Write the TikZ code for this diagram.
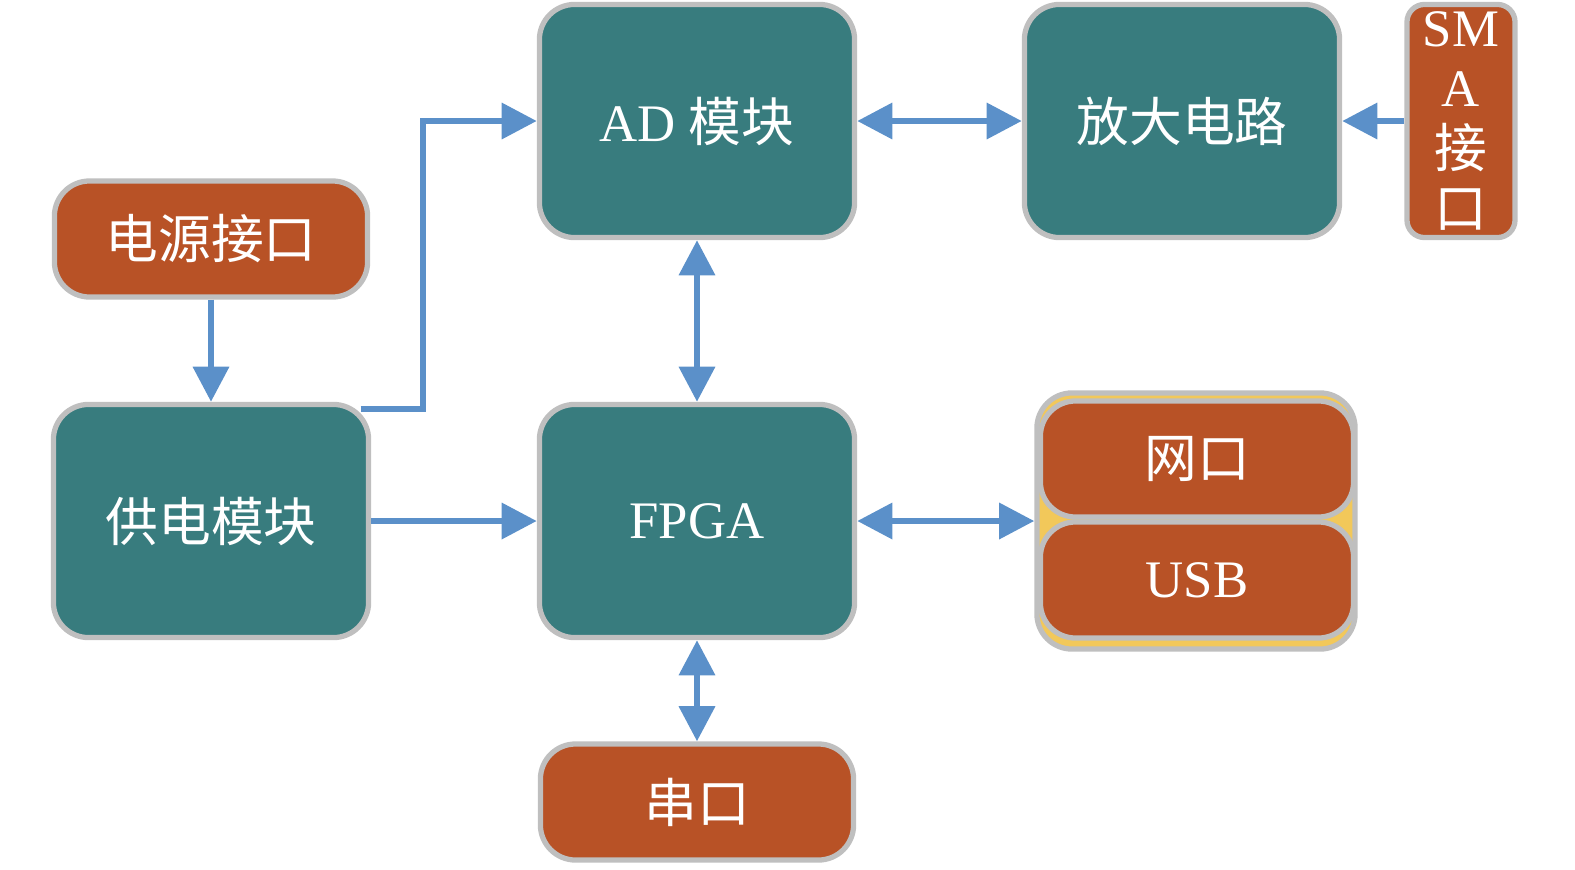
\documentclass[tikz,border=0pt]{standalone}
\usepackage{fontspec}
\setmainfont{Liberation Serif}
\newfontfamily\cjk{Noto Sans CJK SC}
\usetikzlibrary{arrows.meta}
\definecolor{tealbox}{RGB}{56,124,126}
\definecolor{rustbox}{RGB}{184,82,38}
\definecolor{rimgray}{RGB}{191,191,191}
\definecolor{linkblue}{RGB}{91,144,201}
\definecolor{groupyellow}{RGB}{242,200,90}

\begin{document}
\begin{tikzpicture}
[x=0.01cm,y=-0.01cm,
every node/.style={rounded corners=10pt,draw=rimgray,line width=1.5pt,text=white,font=\fontsize{15}{18}\selectfont,inner sep=2pt},
block/.style={fill=tealbox,minimum width=3.15cm,minimum height=2.33cm},
port/.style={fill=rustbox,minimum width=3.13cm,minimum height=1.16cm},
link/.style={draw=linkblue,line width=1.8pt,-{Triangle[length=10pt,width=10pt]}},
dlink/.style={link,{Triangle[length=10pt,width=10pt]}-{Triangle[length=10pt,width=10pt]}}]
\useasboundingbox (0,0) rectangle (1575,869);
\node[port] (src) at (211,239) {\cjk 电源接口};
\node[block] (pwr) at (211,521) {\cjk 供电模块};
\node[block] (ad) at (697,121) {AD {\cjk 模块}};
\node[block] (fpga) at (697,521) {FPGA};
\node[block] (amp) at (1182,121) {\cjk 放大电路};
\node[fill=rustbox,minimum width=1.08cm,minimum height=2.33cm,rounded corners=5pt,align=center,inner sep=0pt,font=\fontsize{15}{17.2}\selectfont] (sma) at (1461,121) {SM\\A\\{\cjk 接}\\{\cjk 口}};
\node[fill=groupyellow,minimum width=3.18cm,minimum height=2.56cm] (grp) at (1196,521) {};
\node[port] (eth) at (1197,459) {\cjk 网口};
\node[port] (usb) at (1197,580) {USB};
\node[port] (uart) at (697,802) {\cjk 串口};
\coordinate (bend) at (423,300);
\draw[link] (src) -- (pwr);
\draw[link] (pwr) -- (fpga);
\draw[link] (sma) -- (amp);
\draw[link] ([xshift=-3pt,yshift=-2pt]pwr.north east) -| (bend) |- (ad.west);
\foreach \from/\to in {ad/fpga,ad/amp,fpga/grp,fpga/uart}
\draw[dlink] (\from) -- (\to);
\end{tikzpicture}
\end{document}
